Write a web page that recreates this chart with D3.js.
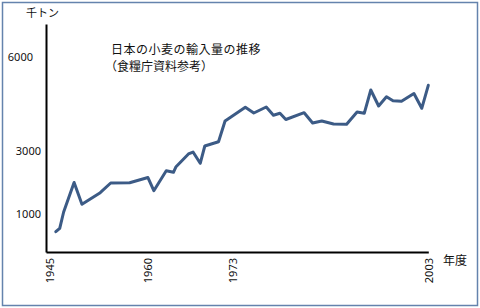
<!DOCTYPE html>
<html>
<head>
<meta charset="utf-8">
<script src="https://cdn.jsdelivr.net/npm/d3@7"></script>
<style>
  body { margin: 0; background: #fff; }
  svg { display: block; }
  .tick text { font-family: "Noto Sans", "Liberation Sans", sans-serif; font-size: 11px; fill: #111; }
  .jp { font-family: "Noto Sans CJK JP", sans-serif; fill: #111; }
</style>
</head>
<body>
<div class="container"></div>
<script>
"use strict";

// 年度 (the line is not evenly spaced)
const years = [
  1946.0, 1946.6, 1947.2, 1948.8, 1950.0, 1952.8, 1954.4, 1957.3, 1960.1, 1961.0,
  1962.9, 1964.0, 1964.4, 1966.3, 1967.0, 1968.1, 1968.8, 1970.9, 1971.9, 1975.0,
  1976.3, 1978.2, 1979.3, 1980.3, 1981.2, 1984.0, 1985.3, 1986.7, 1988.5, 1990.5,
  1992.1, 1993.2, 1994.2, 1995.4, 1996.6, 1997.6, 1998.9, 2000.8, 2002.0, 2003.0
];
// 輸入量 (千トン)
const imports = [
  446, 554, 1072, 2009, 1316, 1685, 1993, 1999, 2167, 1748,
  2383, 2333, 2510, 2914, 2977, 2618, 3168, 3304, 3962, 4397,
  4216, 4406, 4146, 4206, 4009, 4225, 3898, 3962, 3866, 3857,
  4247, 4206, 4946, 4438, 4733, 4606, 4590, 4835, 4365, 5095
];
const yTicks = [1000, 3000, 6000];
const xTicks = [1945, 1960, 1973, 2003];

const makePlot = () => {
  const width = 480;
  const height = 308;

  const svg = d3
    .select(".container")
    .append("svg")
    .attr("width", width)
    .attr("height", height);

  // frame
  svg
    .append("rect")
    .attr("x", 2.5)
    .attr("y", 2.5)
    .attr("width", 475)
    .attr("height", 303)
    .attr("fill", "#fff")
    .attr("stroke", "#6483ad")
    .attr("stroke-width", 1.5);

  const x = d3.scaleLinear().domain([1944.5, 2003]).range([46, 428.3]);
  const y = d3.scaleLinear().domain([-198, 7042]).range([252, 24]);

  const xAxis = d3
    .axisBottom(x)
    .tickValues(xTicks)
    .tickSize(0)
    .tickSizeOuter(0)
    .tickFormat(d3.format("d"));
  const yAxis = d3
    .axisLeft(y)
    .tickValues(yTicks)
    .tickSize(0)
    .tickSizeOuter(0)
    .tickPadding(5)
    .tickFormat(d3.format("d"));

  const gx = svg
    .append("g")
    .attr("id", "x-axis")
    .attr("transform", "translate(0," + 252 + ")")
    .call(xAxis);
  gx.select(".domain").attr("stroke", "#000").attr("stroke-width", 2);
  gx.selectAll(".tick text")
    .attr("transform", "rotate(-90)")
    .attr("x", -6)
    .attr("y", 0)
    .attr("dy", "0.35em")
    .style("text-anchor", "end");

  const gy = svg
    .append("g")
    .attr("id", "y-axis")
    .attr("transform", "translate(46,0)")
    .call(yAxis);
  gy.select(".domain").attr("stroke", "#000").attr("stroke-width", 2);
  // 6000 sits a bit further left in the original
  gy.selectAll(".tick text").attr("dx", (d) => (d === 6000 ? -8 : 0));

  svg
    .append("path")
    .datum(years.map((d, i) => [d, imports[i]]))
    .attr("fill", "none")
    .attr("stroke", "#3c5b86")
    .attr("stroke-width", 3)
    .attr("stroke-linejoin", "round")
    .attr("stroke-linecap", "round")
    .attr(
      "d",
      d3
        .line()
        .x((d) => x(d[0]))
        .y((d) => y(d[1]))
    );

  // texts
  svg.append("text").attr("class", "jp")
    .attr("x", 26).attr("y", 17)
    .style("font-size", "11px")
    .text("千トン");

  svg.append("text").attr("class", "jp")
    .attr("x", 443).attr("y", 265)
    .style("font-size", "12px")
    .text("年度");

  svg.append("text").attr("class", "jp")
    .attr("x", 111).attr("y", 53.5)
    .style("font-size", "12px")
    .style("letter-spacing", "0.5px")
    .text("日本の小麦の輸入量の推移");

  svg.append("text").attr("class", "jp")
    .attr("x", 105).attr("y", 71)
    .style("font-size", "12px")
    .text("（食糧庁資料参考）");
};

makePlot();
</script>
</body>
</html>
